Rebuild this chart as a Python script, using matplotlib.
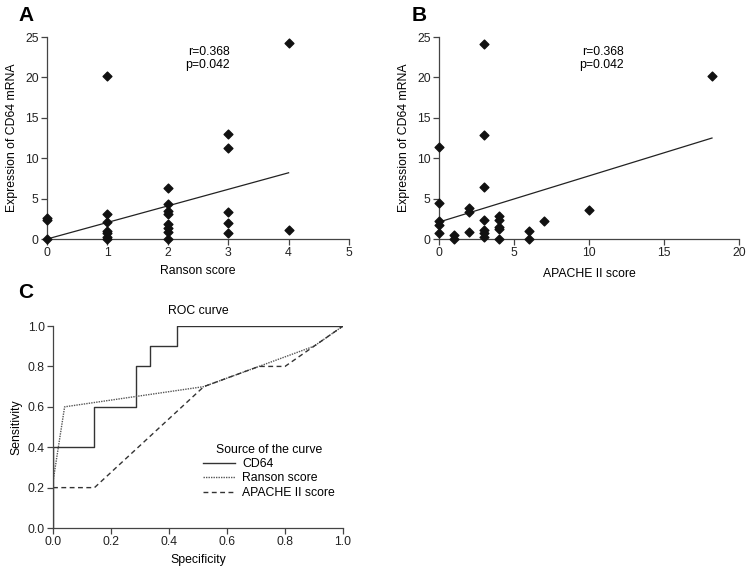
import numpy as np
import matplotlib
matplotlib.use('Agg')
import matplotlib.pyplot as plt

plt.rcParams['font.family'] = ['Liberation Sans', 'DejaVu Sans']
plt.rcParams['font.size'] = 8.8

#%% data
# panel A: Ranson score vs CD64 mRNA expression
ranson_x = [0, 0, 0, 1, 1, 1, 1, 1, 1, 1,
            2, 2, 2, 2, 2, 2, 2, 2, 3, 3, 3, 3, 3, 4, 4]
ranson_y = [0.0, 2.3, 2.6, 20.2, 3.1, 2.1, 1.0, 0.7, 0.3, 0.0,
            6.3, 4.3, 3.5, 3.1, 1.9, 1.4, 0.9, 0.0, 13.0, 11.3, 3.3, 2.0, 0.8, 24.2, 1.1]
ranson_fit_x = [0, 4]
ranson_fit_y = [0.0, 8.2]

# panel B: APACHE II score vs CD64 mRNA expression
apache_x = [0, 0, 0, 0, 0, 1, 1, 2, 2, 2,
            3, 3, 3, 3, 3, 3, 3, 4, 4, 4, 4, 4, 6, 6, 7, 10, 18.2]
apache_y = [11.4, 4.5, 2.2, 1.7, 0.7, 0.5, 0.0, 3.8, 3.3, 0.9,
            24.1, 12.9, 6.5, 2.4, 1.1, 0.7, 0.3, 2.8, 2.4, 1.5, 1.2, 0.0, 1.0, 0.0, 2.2, 3.6, 20.2]
apache_fit_x = [0, 18.2]
apache_fit_y = [2.1, 12.5]

stat_text = 'r=0.368\np=0.042'

# panel C: ROC curves
cd64_spec = [0.0, 0.0, 0.143, 0.143, 0.286, 0.286, 0.333, 0.333, 0.429, 0.429, 1.0]
cd64_sens = [0.0, 0.4, 0.4, 0.6, 0.6, 0.8, 0.8, 0.9, 0.9, 1.0, 1.0]
ranson_spec = [0.0, 0.04, 0.52, 0.9, 1.0]
ranson_sens = [0.23, 0.6, 0.7, 0.9, 1.0]
apache_spec = [0.0, 0.143, 0.52, 0.71, 0.8, 0.9, 1.0]
apache_sens = [0.2, 0.2, 0.7, 0.8, 0.8, 0.9, 1.0]

axcol = '#444444'
fs = 8.8


def style_axes(ax):
    for s in ['top', 'right']:
        ax.spines[s].set_visible(False)
    for s in ['left', 'bottom']:
        ax.spines[s].set_color(axcol)
        ax.spines[s].set_linewidth(0.9)
    ax.tick_params(direction='out', length=4, width=0.9, color=axcol,
                   labelsize=fs, labelcolor='#222222', pad=2)


fig = plt.figure(figsize=(7.52, 5.75), dpi=100)

#%% A
axA = fig.add_axes([0.0625, 0.5843, 0.4016, 0.3513])
axA.scatter(ranson_x, ranson_y, marker='D', s=20, color='#111111', clip_on=False, zorder=3)
axA.plot(ranson_fit_x, ranson_fit_y, color='#222222', lw=0.9)
axA.set_xlim(0, 5)
axA.set_ylim(0, 25)
axA.set_xticks(range(0, 6))
axA.set_yticks(range(0, 26, 5))
axA.set_xlabel('Ranson score', fontsize=fs, labelpad=4)
axA.set_ylabel('Expression of CD64 mRNA', fontsize=fs, labelpad=5)
axA.text(3.03, 23.9, stat_text, ha='right', va='top', fontsize=fs, linespacing=1.15)
style_axes(axA)

#%% B
axB = fig.add_axes([0.5838, 0.5843, 0.3989, 0.3513])
axB.scatter(apache_x, apache_y, marker='D', s=20, color='#111111', clip_on=False, zorder=3)
axB.plot(apache_fit_x, apache_fit_y, color='#222222', lw=0.9)
axB.set_xlim(0, 20)
axB.set_ylim(0, 25)
axB.set_xticks(range(0, 21, 5))
axB.set_yticks(range(0, 26, 5))
axB.set_xlabel('APACHE II score', fontsize=fs, labelpad=6)
axB.set_ylabel('Expression of CD64 mRNA', fontsize=fs, labelpad=5)
axB.text(12.3, 23.9, stat_text, ha='right', va='top', fontsize=fs, linespacing=1.15)
style_axes(axB)

#%% C
axC = fig.add_axes([0.0705, 0.0817, 0.3856, 0.3513])
axC.plot(cd64_spec, cd64_sens, color='#333333', lw=1.0, ls='-', label='CD64')
axC.plot(ranson_spec, ranson_sens, color='#555555', lw=1.0, ls=(0, (1, 0.8)), label='Ranson score')
axC.plot(apache_spec, apache_sens, color='#333333', lw=1.0, ls=(0, (3.5, 2.5)), label='APACHE II score')
axC.set_xlim(0, 1)
axC.set_ylim(0, 1)
axC.set_xticks(np.arange(0, 1.01, 0.2))
axC.set_yticks(np.arange(0, 1.01, 0.2))
axC.xaxis.set_major_formatter(matplotlib.ticker.FormatStrFormatter('%.1f'))
axC.yaxis.set_major_formatter(matplotlib.ticker.FormatStrFormatter('%.1f'))
axC.set_xlabel('Specificity', fontsize=fs, labelpad=4)
axC.set_ylabel('Sensitivity', fontsize=fs, labelpad=4)
axC.set_title('ROC curve', fontsize=fs, pad=9)
leg = axC.legend(title='Source of the curve', loc='lower left', bbox_to_anchor=(0.50, 0.12),
                 frameon=False, fontsize=fs, title_fontsize=fs, handlelength=2.6,
                 handletextpad=0.6, labelspacing=0.2, borderaxespad=0)
style_axes(axC)

#%% panel letters
for lab, x, y in [('A', 0.024, 0.99), ('B', 0.547, 0.99), ('C', 0.024, 0.508)]:
    fig.text(x, y, lab, fontsize=15, fontweight='bold', ha='left', va='top',
             family=['Liberation Sans Narrow', 'Liberation Sans', 'DejaVu Sans'])

fig.savefig('out.png', dpi=100)
